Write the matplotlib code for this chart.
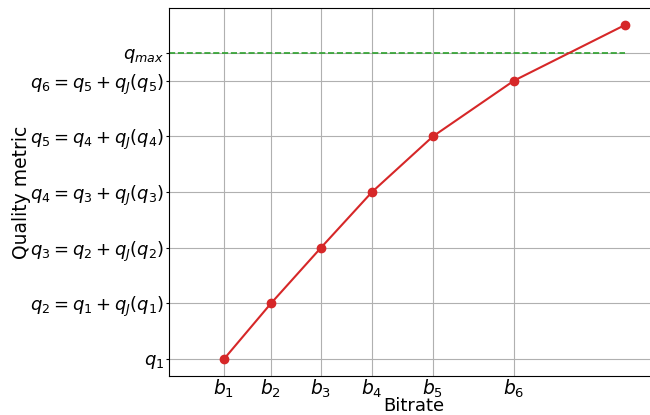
import matplotlib
matplotlib.use("Agg")
import matplotlib.pyplot as plt

# Bitrate steps and quality levels (arbitrary units)
bitrates = [1.0, 1.94, 2.94, 3.96, 5.18, 6.8, 9.02]
quality = [1, 2, 3, 4, 5, 6, 7]
q_max = 6.5

x_tick_labels = [r'$b_1$', r'$b_2$', r'$b_3$', r'$b_4$', r'$b_5$', r'$b_6$']
y_tick_values = [1, 2, 3, 4, 5, 6, q_max]
y_tick_labels = [
    r'$q_1$',
    r'$q_2 = q_1 + q_J(q_1)$',
    r'$q_3 = q_2 + q_J(q_2)$',
    r'$q_4 = q_3 + q_J(q_3)$',
    r'$q_5 = q_4 + q_J(q_4)$',
    r'$q_6 = q_5 + q_J(q_5)$',
    r'$q_{max}$',
]

fig = plt.figure(figsize=(6.5, 4.15), dpi=100)
ax = fig.add_axes([169 / 650, 1 - 376 / 415, 490 / 650, 368 / 415])

ax.plot(bitrates, quality, color='#d62728', marker='o', markersize=6, linewidth=1.5, zorder=3)
ax.hlines(q_max, -0.1, bitrates[-1], colors='#2ca02c', linestyles='--', linewidth=1.2, zorder=2)

ax.set_xlim(-0.1, 9.7)
ax.set_ylim(0.695, 7.305)
ax.set_xticks(bitrates[:6])
ax.set_xticklabels(x_tick_labels, fontsize=13.5)
ax.set_yticks(y_tick_values)
ax.set_yticklabels(y_tick_labels, fontsize=13)
ax.tick_params(axis='x', length=0, pad=1)
ax.tick_params(axis='y', length=2, pad=1.5)
ax.grid(True, color='#b0b0b0', linewidth=0.8)

ax.set_xlabel('Bitrate', fontsize=13, labelpad=-2)
ax.set_ylabel('Quality metric', fontsize=13.5, labelpad=-0.5)

fig.savefig('out.png', dpi=100)
